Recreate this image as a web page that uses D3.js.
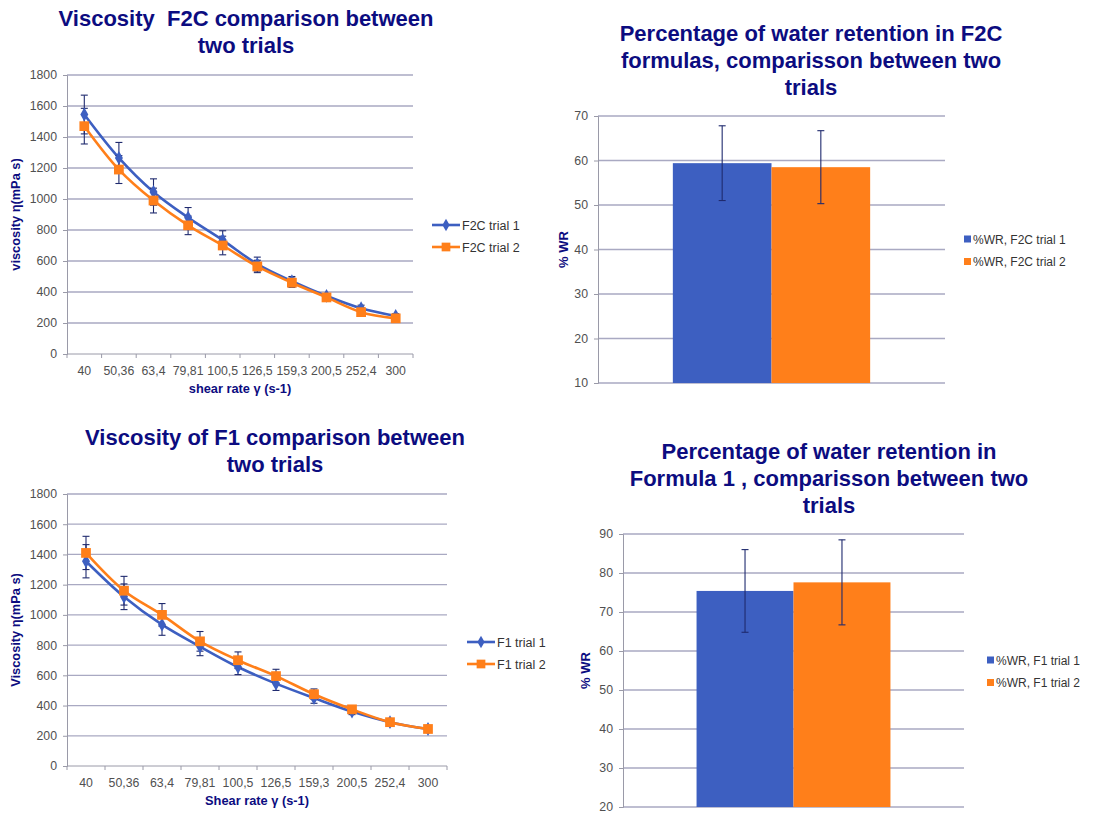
<!DOCTYPE html>
<html>
<head>
<meta charset="utf-8">
<script src="https://cdn.jsdelivr.net/npm/d3@7"></script>
<style>
  body { margin: 0; background: #fff; }
  svg { font-family: "Liberation Sans", Arial, sans-serif; }
</style>
</head>
<body>
<div class="wrapper"></div>
<script>
// shear rates (x categories), shared by both line charts
var shearRates = ["40", "50,36", "63,4", "79,81", "100,5", "126,5", "159,3", "200,5", "252,4", "300"];

// F2C viscosity, trial 1 and 2, with error
var f2cTrial1 = [1545, 1265, 1045, 880, 735, 580, 470, 375, 295, 245];
var f2cErr1   = [125, 100, 85, 65, 60, 45, 30, 15, 20, 15];
var f2cTrial2 = [1470, 1190, 990, 830, 700, 565, 460, 365, 270, 230];
var f2cErr2   = [115, 90, 80, 60, 60, 40, 30, 15, 15, 10];

// F1 viscosity, trial 1 and 2, with error
var f1Trial1 = [1355, 1120, 935, 790, 655, 545, 450, 360, 290, 245];
var f1Err1   = [110, 85, 70, 60, 50, 45, 35, 20, 10, 10];
var f1Trial2 = [1410, 1160, 1000, 825, 700, 595, 475, 375, 290, 245];
var f1Err2   = [110, 95, 75, 65, 55, 45, 35, 15, 10, 10];

var viscTicks = [0, 200, 400, 600, 800, 1000, 1200, 1400, 1600, 1800];

// water retention bars
var wrF2CNames  = ["%WR, F2C trial 1", "%WR, F2C trial 2"];
var wrF2CValues = [59.4, 58.5];
var wrF2CErrors = [8.4, 8.2];
var wrF2CTicks  = [10, 20, 30, 40, 50, 60, 70];

var wrF1Names  = ["%WR, F1 trial 1", "%WR, F1 trial 2"];
var wrF1Values = [75.4, 77.6];
var wrF1Errors = [10.6, 10.9];
var wrF1Ticks  = [20, 30, 40, 50, 60, 70, 80, 90];

var blue = "#3d5fc1",
    orange = "#ff7f1a",
    navy = "#0c0c80",
    errColor = "#1f2a6e",
    gridColor = "#a9a9c2",
    axisColor = "#9a9aa8",
    tickText = "#505050";

var w = 1105, h = 814;

var svg = d3.select(".wrapper").append("svg")
    .attr("width", w)
    .attr("height", h);

function title(lines, cx, y0) {
  var t = svg.append("text")
      .attr("text-anchor", "middle")
      .attr("fill", navy)
      .attr("font-size", 22)
      .attr("font-weight", "bold")
      .style("white-space", "pre");
  lines.forEach(function(l, i) {
    t.append("tspan").attr("x", cx).attr("y", y0 + i * 27).text(l);
  });
}

function yGrid(g, y, ticks, width) {
  g.selectAll("line.grid")
    .data(ticks)
    .enter().append("line")
      .attr("class", "grid")
      .attr("x1", 0).attr("x2", width)
      .attr("y1", function(d) { return y(d); })
      .attr("y2", function(d) { return y(d); })
      .attr("stroke", gridColor)
      .attr("stroke-width", 1.3);
}

function yAxis(g, y, ticks) {
  var ax = g.append("g").call(d3.axisLeft(y).tickValues(ticks).tickFormat(d3.format("d")).tickSize(4).tickPadding(6));
  ax.select(".domain").attr("stroke", axisColor);
  ax.selectAll(".tick line").attr("stroke", axisColor);
  ax.selectAll(".tick text").attr("fill", tickText).attr("font-size", 12.3)
    .attr("font-family", "Liberation Sans, Arial, sans-serif");
  return ax;
}

function lineChart(o) {
  var g = svg.append("g").attr("transform", "translate(" + o.left + "," + o.top + ")");
  var x = d3.scaleBand().domain(shearRates).range([0, o.width]);
  var y = d3.scaleLinear().domain([0, 1800]).range([o.height, 0]);

  yGrid(g, y, viscTicks.slice(1), o.width);
  yAxis(g, y, viscTicks);

  // x axis with ticks on band edges
  var xa = g.append("g").attr("transform", "translate(0," + o.height + ")");
  xa.append("line").attr("x1", 0).attr("x2", o.width).attr("stroke", axisColor);
  xa.selectAll("line.t")
    .data(d3.range(shearRates.length + 1))
    .enter().append("line")
      .attr("class", "t")
      .attr("x1", function(i) { return i * x.step(); })
      .attr("x2", function(i) { return i * x.step(); })
      .attr("y1", 0).attr("y2", 4)
      .attr("stroke", axisColor);
  xa.selectAll("text")
    .data(shearRates)
    .enter().append("text")
      .attr("x", function(d) { return x(d) + x.bandwidth() / 2; })
      .attr("y", 21)
      .attr("text-anchor", "middle")
      .attr("fill", tickText)
      .attr("font-size", 12.3)
      .text(function(d) { return d; });

  g.append("text")
    .attr("x", o.width / 2).attr("y", o.height + 39)
    .attr("text-anchor", "middle")
    .attr("fill", navy).attr("font-size", 12.8).attr("font-weight", "bold")
    .text(o.xTitle);
  g.append("text")
    .attr("transform", "translate(" + (-47) + "," + (o.height / 2) + ") rotate(-90)")
    .attr("text-anchor", "middle")
    .attr("fill", navy).attr("font-size", 12.8).attr("font-weight", "bold")
    .text(o.yTitle);

  var cx = function(d, i) { return x(shearRates[i]) + x.bandwidth() / 2; };
  var line = d3.line()
      .x(function(d, i) { return cx(d, i); })
      .y(function(d) { return y(d); })
      .curve(d3.curveCatmullRom.alpha(0.5));

  var series = [
    { vals: o.s1, err: o.e1, color: blue, sym: d3.symbolDiamond, size: 55 },
    { vals: o.s2, err: o.e2, color: orange, sym: d3.symbolSquare, size: 95 }
  ];

  series.forEach(function(s) {
    g.append("path")
      .datum(s.vals)
      .attr("d", line)
      .attr("fill", "none")
      .attr("stroke", s.color)
      .attr("stroke-width", 2.6);
  });

  series.forEach(function(s) {
    var eb = g.append("g").selectAll("g")
      .data(s.vals)
      .enter().append("g")
        .attr("stroke", errColor)
        .attr("stroke-width", 1.1);
    eb.append("line")
      .attr("x1", cx).attr("x2", cx)
      .attr("y1", function(d, i) { return y(d - s.err[i]); })
      .attr("y2", function(d, i) { return y(d + s.err[i]); });
    [1, -1].forEach(function(sg) {
      eb.append("line")
        .attr("x1", function(d, i) { return cx(d, i) - 3.5; })
        .attr("x2", function(d, i) { return cx(d, i) + 3.5; })
        .attr("y1", function(d, i) { return y(d + sg * s.err[i]); })
        .attr("y2", function(d, i) { return y(d + sg * s.err[i]); });
    });
  });

  series.forEach(function(s) {
    g.append("g").selectAll("path")
      .data(s.vals)
      .enter().append("path")
        .attr("d", d3.symbol().type(s.sym).size(s.size))
        .attr("transform", function(d, i) { return "translate(" + cx(d, i) + "," + y(d) + ")"; })
        .attr("fill", s.color);
  });

  // legend
  var lg = svg.append("g").attr("transform", "translate(" + o.legendX + "," + o.legendY + ")");
  series.forEach(function(s, i) {
    var row = lg.append("g").attr("transform", "translate(0," + (i * 22) + ")");
    row.append("line").attr("x1", 0).attr("x2", 28).attr("stroke", s.color).attr("stroke-width", 2.6);
    row.append("path").attr("d", d3.symbol().type(s.sym).size(s.size * 0.8))
      .attr("transform", "translate(14,0)").attr("fill", s.color);
    row.append("text").attr("x", 30).attr("y", 4.5)
      .attr("font-size", 12.5).attr("fill", "#333")
      .text(o.names[i]);
  });
}

function barChart(o) {
  var g = svg.append("g").attr("transform", "translate(" + o.left + "," + o.top + ")");
  var y = d3.scaleLinear().domain([o.ticks[0], o.ticks[o.ticks.length - 1]]).range([o.height, 0]);
  var x0 = d3.scaleBand().domain(["g"]).range([0, o.width]).padding(0.275);
  var x1 = d3.scaleBand().domain(o.names).range([x0("g"), x0("g") + x0.bandwidth()]);

  yGrid(g, y, o.ticks, o.width);
  yAxis(g, y, o.ticks);

  g.selectAll("rect")
    .data(o.values)
    .enter().append("rect")
      .attr("x", function(d, i) { return x1(o.names[i]); })
      .attr("width", x1.bandwidth())
      .attr("y", function(d) { return y(d); })
      .attr("height", function(d) { return o.height - y(d); })
      .attr("fill", function(d, i) { return i ? orange : blue; });

  var eb = g.selectAll("g.err")
    .data(o.values)
    .enter().append("g")
      .attr("class", "err")
      .attr("stroke", errColor)
      .attr("stroke-width", 1.1);
  var mx = function(d, i) { return x1(o.names[i]) + x1.bandwidth() / 2; };
  eb.append("line")
    .attr("x1", mx).attr("x2", mx)
    .attr("y1", function(d, i) { return y(d - o.errors[i]); })
    .attr("y2", function(d, i) { return y(d + o.errors[i]); });
  [1, -1].forEach(function(sg) {
    eb.append("line")
      .attr("x1", function(d, i) { return mx(d, i) - 3.5; })
      .attr("x2", function(d, i) { return mx(d, i) + 3.5; })
      .attr("y1", function(d, i) { return y(d + sg * o.errors[i]); })
      .attr("y2", function(d, i) { return y(d + sg * o.errors[i]); });
  });

  g.append("text")
    .attr("transform", "translate(" + o.yTitleX + "," + (o.height / 2) + ") rotate(-90)")
    .attr("text-anchor", "middle")
    .attr("fill", navy).attr("font-size", 13).attr("font-weight", "bold")
    .text("% WR");

  var lg = svg.append("g").attr("transform", "translate(" + o.legendX + "," + o.legendY + ")");
  o.names.forEach(function(n, i) {
    var row = lg.append("g").attr("transform", "translate(0," + (i * 22.5) + ")");
    row.append("rect").attr("x", 0).attr("y", -3.5).attr("width", 7).attr("height", 7)
      .attr("fill", i ? orange : blue);
    row.append("text").attr("x", 9).attr("y", 4.5)
      .attr("font-size", 12).attr("fill", "#333")
      .text(n);
  });
}

title(["Viscosity  F2C comparison between", "two trials"], 246, 26);
lineChart({
  left: 67, top: 75, width: 346, height: 279,
  s1: f2cTrial1, e1: f2cErr1, s2: f2cTrial2, e2: f2cErr2,
  names: ["F2C trial 1", "F2C trial 2"],
  xTitle: "shear rate \u03b3 (s-1)", yTitle: "viscosity \u03b7(mPa s)",
  legendX: 432, legendY: 225
});

title(["Percentage of water retention in F2C", "formulas, comparisson between two", "trials"], 811, 41);
barChart({
  left: 598, top: 116, width: 347, height: 267,
  names: wrF2CNames, values: wrF2CValues, errors: wrF2CErrors, ticks: wrF2CTicks,
  yTitleX: -30, legendX: 964, legendY: 239
});

title(["Viscosity of F1 comparison between", "two trials"], 275, 445);
lineChart({
  left: 67, top: 494, width: 380, height: 272,
  s1: f1Trial1, e1: f1Err1, s2: f1Trial2, e2: f1Err2,
  names: ["F1 trial 1", "F1 trial 2"],
  xTitle: "Shear rate \u03b3 (s-1)", yTitle: "Viscosity \u03b7(mPa s)",
  legendX: 467, legendY: 642
});

title(["Percentage of water retention in", "Formula 1 , comparisson between two", "trials"], 829, 459);
barChart({
  left: 623, top: 534, width: 341, height: 273,
  names: wrF1Names, values: wrF1Values, errors: wrF1Errors, ticks: wrF1Ticks,
  yTitleX: -33, legendX: 987, legendY: 660
});
</script>
</body>
</html>
